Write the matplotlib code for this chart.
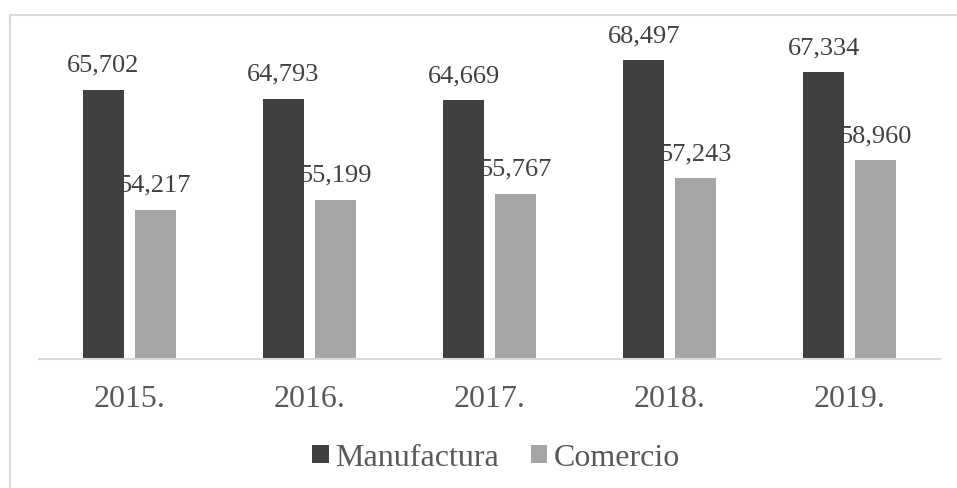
import matplotlib.pyplot as plt
from matplotlib.patches import Rectangle
import numpy as np

years = ["2015.", "2016.", "2017.", "2018.", "2019."]
manufactura = [65702, 64793, 64669, 68497, 67334]
comercio = [54217, 55199, 55767, 57243, 58960]

plt.rcParams['font.family'] = ['Liberation Serif', 'DejaVu Serif']

W, H = 957, 488
fig = plt.figure(figsize=(W / 100, H / 100), dpi=100)

# outer chart border (clipped on the right and bottom)
fig.patches.append(Rectangle((9.5 / W, -0.1), 1.2, (H - 15) / H + 0.1,
                             transform=fig.transFigure, fill=False,
                             edgecolor='#D9D9D9', linewidth=1.5))

ax = fig.add_axes([39 / W, (H - 359.3) / H, (940 - 39) / W, (359.3 - 44.5) / H])

x = np.arange(len(years))
bw = 0.228
gap = 0.06
c_man = '#404040'
c_com = '#A5A5A5'

b1 = ax.bar(x - (bw + gap) / 2, manufactura, bw, color=c_man, label='Manufactura')
b2 = ax.bar(x + (bw + gap) / 2, comercio, bw, color=c_com, label='Comercio')

for cont, vals in ((b1, manufactura), (b2, comercio)):
    ax.bar_label(cont, labels=[f"{v:,}" for v in vals], padding=9.5,
                 fontsize=19, color='#404040')

ax.set_ylim(40000, 70000)
ax.set_xlim(-0.5, len(years) - 0.5)
ax.set_xticks(x)
ax.set_xticklabels(years, fontsize=23, color='#595959')
ax.tick_params(axis='x', length=0, pad=18.5)
ax.set_yticks([])
for s in ('left', 'right', 'top'):
    ax.spines[s].set_visible(False)
ax.spines['bottom'].set_color('#D9D9D9')
ax.spines['bottom'].set_linewidth(1.5)

leg = fig.legend(handles=[b1, b2], loc='center',
                 bbox_to_anchor=(496 / W, (H - 458) / H), ncol=2,
                 frameon=False, fontsize=23, handlelength=0.52,
                 handleheight=0.52, handletextpad=0.2, columnspacing=1.0,
                 borderpad=0, borderaxespad=0)
for t in leg.get_texts():
    t.set_color('#595959')

fig.savefig('out.png', dpi=100)
